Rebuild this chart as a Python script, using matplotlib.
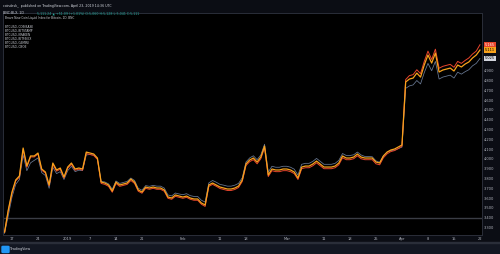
import matplotlib
matplotlib.use('Agg')
import matplotlib.pyplot as plt
from matplotlib.patches import Rectangle, FancyBboxPatch
import pandas as pd

# ---------------------------------------------------------------------------
# Data (daily closes, Dec 15 2018 - Apr 22 2019)
# ---------------------------------------------------------------------------
start_date = "2018-12-15"

blx_orange = [
    3254, 3479, 3662, 3785, 3826, 4111, 3928, 4030, 4030, 4060, 3897, 3866, 3734, 3958, 3887, 3907, 3815,
    3917, 3958, 3897, 3907, 3897, 4070, 4060, 4050, 4009, 3764, 3754, 3734, 3672, 3764, 3734, 3744, 3754,
    3795, 3764, 3683, 3662, 3713, 3703, 3713, 3703, 3703, 3683, 3611, 3601, 3632, 3621,
    3611, 3621, 3601, 3591, 3591, 3550, 3530, 3734, 3754, 3734, 3713, 3703, 3693, 3693, 3703, 3723, 3785,
    3948, 3989, 4009, 3968, 4019, 4131, 3836, 3897, 3887, 3887, 3897,
    3897, 3887, 3866, 3805, 3917, 3927, 3927, 3948, 3978, 3948, 3917, 3917, 3917, 3927, 3958, 4030, 4009,
    4009, 4019, 4050, 4019, 4009, 4009, 4009, 3968, 3958, 4030, 4070, 4091, 4101, 4121,
    4142, 4785, 4815, 4825, 4876, 4835, 4958, 5060, 4978, 5080, 4887, 4907, 4917, 4927, 4897, 4958, 4938,
    4968, 4989, 5030, 5060, 5111,
]

blx_red = [
    3250, 3470, 3650, 3775, 3815, 4095, 3915, 4020, 4020, 4050, 3885, 3855, 3725, 3945, 3875, 3895, 3805,
    3905, 3945, 3885, 3895, 3885, 4055, 4045, 4035, 3995, 3750, 3740, 3720, 3660, 3750, 3720, 3730, 3740,
    3780, 3750, 3670, 3650, 3700, 3690, 3700, 3690, 3690, 3670, 3598, 3588, 3618, 3608,
    3598, 3608, 3588, 3578, 3578, 3537, 3515, 3720, 3740, 3720, 3698, 3688, 3678, 3678, 3688, 3708, 3770,
    3932, 3972, 3992, 3950, 4002, 4115, 3820, 3880, 3870, 3870, 3880,
    3880, 3870, 3850, 3790, 3900, 3910, 3910, 3930, 3960, 3930, 3900, 3900, 3900, 3910, 3940, 4012, 3992,
    3992, 4002, 4032, 4002, 3992, 3992, 3992, 3950, 3940, 4012, 4052, 4075, 4085, 4105,
    4130, 4810, 4850, 4860, 4910, 4870, 4995, 5100, 5015, 5120, 4925, 4945, 4955, 4965, 4935, 4995, 4975,
    5005, 5030, 5070, 5100, 5165,
]

blx_gray = [
    3240, 3420, 3610, 3740, 3790, 4040, 3880, 3960, 3985, 4010, 3860, 3830, 3700, 3915, 3850, 3870, 3790,
    3880, 3925, 3870, 3885, 3880, 4040, 4045, 4040, 4000, 3770, 3765, 3745, 3690, 3775, 3750, 3760, 3770,
    3805, 3780, 3700, 3680, 3728, 3720, 3730, 3722, 3722, 3702, 3632, 3622, 3652, 3642,
    3635, 3645, 3625, 3617, 3617, 3578, 3560, 3755, 3780, 3762, 3740, 3732, 3722, 3722, 3732, 3750, 3808,
    3968, 4010, 4032, 3992, 4040, 4150, 3865, 3925, 3915, 3915, 3925,
    3925, 3915, 3895, 3835, 3945, 3955, 3955, 3975, 4005, 3975, 3945, 3945, 3945, 3955, 3985, 4055, 4035,
    4035, 4042, 4070, 4040, 4025, 4025, 4022, 3980, 3965, 4032, 4068, 4085, 4090, 4105,
    4120, 4720, 4745, 4755, 4800, 4765, 4880, 4975, 4900, 4995, 4815, 4835, 4845, 4855, 4825, 4885, 4865,
    4890, 4910, 4950, 4975, 5025,
]

price_ticks = [3300, 3400, 3500, 3600, 3700, 3800, 3900, 4000, 4100, 4200, 4300, 4400, 4500, 4600, 4700,
               4800, 4900]
date_ticks = ["2018-12-17", "2018-12-24", "2019-01-01", "2019-01-07", "2019-01-14", "2019-01-21",
              "2019-02-01", "2019-02-11", "2019-02-18", "2019-03-01", "2019-03-11", "2019-03-18",
              "2019-03-25", "2019-04-01", "2019-04-08", "2019-04-15", "2019-04-22"]
date_labels = ["17", "24", "2019", "7", "14", "21", "Feb", "11", "18", "Mar", "11", "18", "25", "Apr",
               "8", "15", "22"]

legend_title = "Brave New Coin Liquid Index for Bitcoin, 1D, BNC"
legend_items = ["BTCUSD, COINBASE", "BTCUSD, BITSTAMP", "BTCUSD, KRAKEN", "BTCUSD, BITFINEX",
                "BTCUSD, GEMINI", "BTCUSD, CBOE"]

# ---------------------------------------------------------------------------
# Figure
# ---------------------------------------------------------------------------
dates = pd.date_range(start_date, periods=len(blx_orange), freq="D")

TXT = '#b2b5be'
fig = plt.figure(figsize=(5.0, 2.54), dpi=100, facecolor='#0b0d14')
ax = fig.add_axes([0.006, 0.0748, 0.958, 0.874])
ax.set_facecolor('#000000')

ax.plot(dates, blx_gray, color='#6a7a95', linewidth=0.55, zorder=2)
ax.plot(dates, blx_red, color='#e8452c', linewidth=0.7, zorder=3)
ax.plot(dates, blx_orange, color='#f7a21b', linewidth=0.9, zorder=4)
ax.axhline(3400, color='#3a3d45', linewidth=1.0, zorder=1)

x0 = pd.Timestamp("2018-12-17")
ax.set_xlim(x0 - pd.Timedelta(days=2.42), x0 + pd.Timedelta(days=126.55))
ax.set_ylim(3223.5, 5489)

ax.yaxis.tick_right()
ax.set_yticks(price_ticks)
ax.set_yticklabels([f"{v:,.3f}"[:5] for v in price_ticks], fontsize=2.6, color=TXT)
ax.set_xticks(pd.to_datetime(date_ticks))
ax.set_xticklabels(date_labels, fontsize=2.6, color=TXT)
ax.tick_params(axis='both', length=0, pad=1.5)
for s in ax.spines.values():
    s.set_color('#2a2e39')
    s.set_linewidth(0.7)

# last-value tags on the price scale
for vals, col, tcol in [(blx_red, '#e8452c', 'white'), (blx_orange, '#f7a21b', 'black'),
                        (blx_gray, '#d1d4dc', 'black')]:
    ax.annotate(f"{vals[-1]:,}", xy=(1.0, vals[-1]), xycoords=('axes fraction', 'data'),
                xytext=(2, 0), textcoords='offset points', fontsize=2.5, color=tcol,
                va='center', ha='left', annotation_clip=False,
                bbox=dict(boxstyle='square,pad=0.25', fc=col, ec='none'))

# legend block in the pane
ax.text(0.004, 0.985, legend_title, transform=ax.transAxes, fontsize=2.1, color='#d1d4dc', va='top')
for i, item in enumerate(legend_items):
    ax.text(0.004, 0.965 - (i + 1) * 0.0185, item, transform=ax.transAxes, fontsize=2.1,
            color='#d1d4dc', va='top')

# header
fig.text(0.006, 0.984, "coindesk_  published on TradingView.com, April 23, 2019 14:36 UTC",
         fontsize=2.3, color='#d1d4dc', va='top')
fig.text(0.006, 0.956, "BNC:BLX, 1D", fontsize=2.3, color='#d1d4dc', va='top')
fig.text(0.074, 0.956, "5,111.24 \u25b2 +51.09 (+1.01%) O:5,060 H:5,128 L:5,041 C:5,111",
         fontsize=2.3, color='#26a69a', va='top')

# footer bar with logo
fig.add_artist(Rectangle((0, 0), 1, 0.043, transform=fig.transFigure, color='#131722', zorder=0))
fig.add_artist(Rectangle((0, 0.043), 1, 0.003, transform=fig.transFigure, color='#2a2e39', zorder=1))
fig.add_artist(FancyBboxPatch((0.006, 0.008), 0.01, 0.02, boxstyle='round,pad=0.002',
                              transform=fig.transFigure, color='#2196f3', zorder=2))
fig.text(0.02, 0.019, "TradingView", fontsize=2.4, color='#d1d4dc', va='center')

plt.savefig("out.png", dpi=100, facecolor=fig.get_facecolor())
plt.close(fig)
